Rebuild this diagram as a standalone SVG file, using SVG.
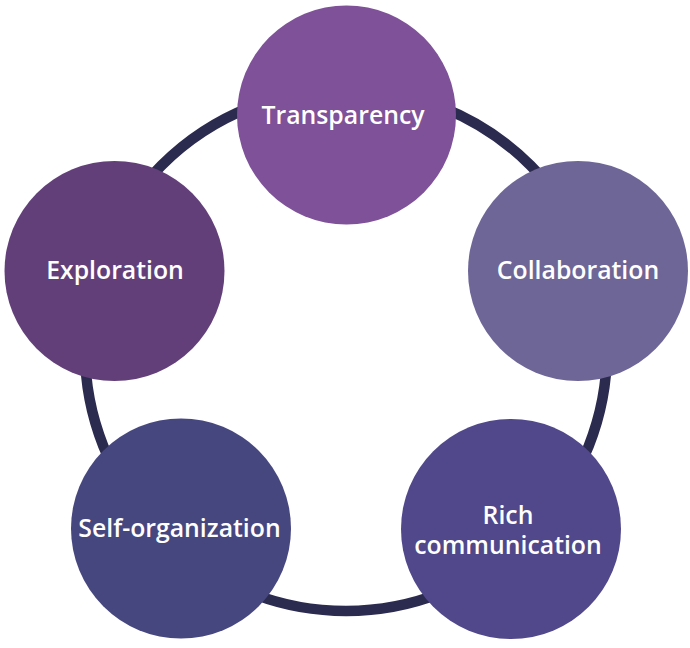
<svg xmlns="http://www.w3.org/2000/svg" width="690" height="648" viewBox="0 0 690 648">
<style>
.node{stroke:none}
.lbl{font-family:"Open Sans","Noto Sans","Liberation Sans",sans-serif;font-weight:600;font-size:24.8px;fill:#ffffff;text-anchor:middle}
</style>
<rect width="690" height="648" fill="#ffffff"/>
<g id="connectors">
<circle cx="346" cy="350" r="261" fill="none" stroke="#2b2a4f" stroke-width="10.5"/>
</g>
<g id="transparency">
<circle class="node" cx="346.5" cy="115" r="109.5" fill="#7e5198"/>
<text class="lbl" x="343" y="123.5">Transparency</text>
</g>
<g id="collaboration">
<circle class="node" cx="578" cy="271" r="110" fill="#6e6697"/>
<text class="lbl" x="578" y="279">Collaboration</text>
</g>
<g id="rich-communication">
<circle class="node" cx="511" cy="529" r="110" fill="#50488a"/>
<text class="lbl" x="508" y="523.5">Rich</text>
<text class="lbl" x="508" y="553.5">communication</text>
</g>
<g id="self-organization">
<circle class="node" cx="181" cy="528.5" r="110" fill="#47477f"/>
<text class="lbl" x="179.5" y="536.5">Self-organization</text>
</g>
<g id="exploration">
<circle class="node" cx="114.5" cy="271" r="110" fill="#633f7a"/>
<text class="lbl" x="115" y="279">Exploration</text>
</g>
</svg>
